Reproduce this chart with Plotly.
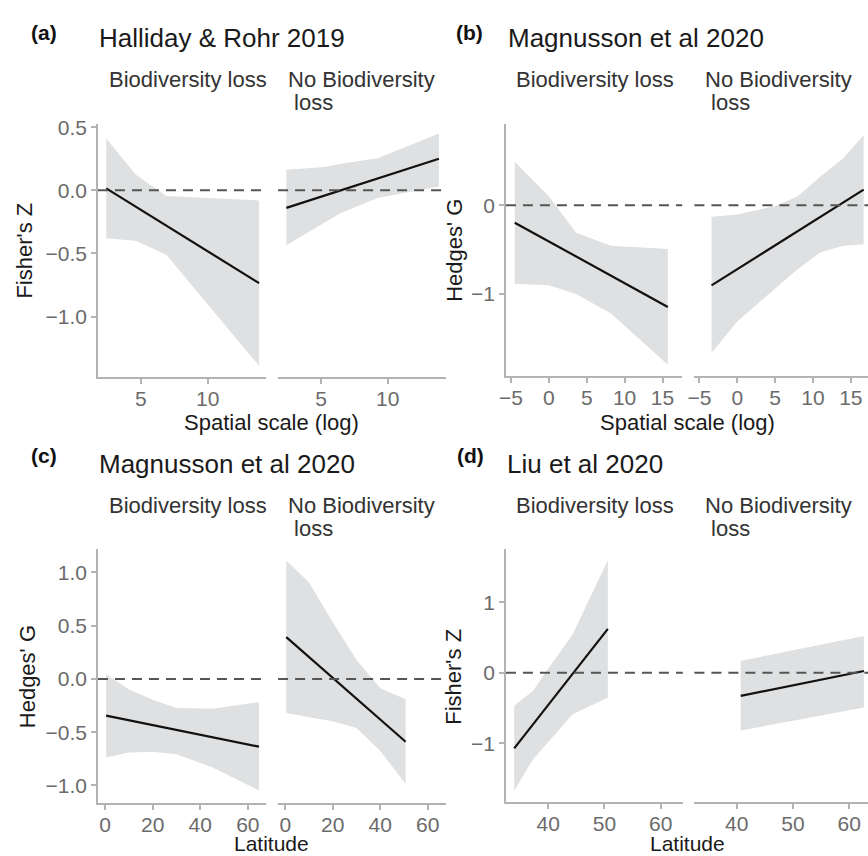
import plotly.graph_objects as go

W, H = 868, 856
FONT = "Liberation Sans, Arial, sans-serif"

# ---------------- data ----------------
# (a) Halliday & Rohr 2019 - Fisher's Z vs spatial scale (log)
a_loss_line_x = [2.4, 13.85]
a_loss_line_y = [0.015, -0.735]
a_loss_rib_x = [2.4, 4.6, 6.9, 13.85]
a_loss_rib_up = [0.41, 0.125, -0.045, -0.08]
a_loss_rib_lo = [-0.38, -0.40, -0.51, -1.39]

a_no_line_x = [2.4, 13.85]
a_no_line_y = [-0.139, 0.25]
a_no_rib_x = [2.4, 5.25, 6.5, 9.25, 13.85]
a_no_rib_up = [0.162, 0.185, 0.21, 0.254, 0.45]
a_no_rib_lo = [-0.434, -0.256, -0.18, -0.06, 0.03]

# (b) Magnusson et al 2020 - Hedges' G vs spatial scale (log)
b_loss_line_x = [-4.5, 15.7]
b_loss_line_y = [-0.197, -1.145]
b_loss_rib_x = [-4.5, 0, 3.6, 8.2, 15.7]
b_loss_rib_up = [0.49, 0.1, -0.31, -0.457, -0.494]
b_loss_rib_lo = [-0.884, -0.9, -1.0, -1.22, -1.795]

b_no_line_x = [-3.4, 16.7]
b_no_line_y = [-0.903, 0.175]
b_no_rib_x = [-3.4, 0, 5, 8, 11, 14, 16.7]
b_no_rib_up = [-0.13, -0.104, -0.01, 0.1, 0.323, 0.527, 0.788]
b_no_rib_lo = [-1.665, -1.31, -0.94, -0.717, -0.53, -0.457, -0.44]

# (c) Magnusson et al 2020 - Hedges' G vs latitude
c_loss_line_x = [0.4, 64.7]
c_loss_line_y = [-0.344, -0.636]
c_loss_rib_x = [0.4, 10, 20, 30, 45, 64.7]
c_loss_rib_up = [0.043, -0.1, -0.195, -0.273, -0.279, -0.218]
c_loss_rib_lo = [-0.738, -0.69, -0.685, -0.707, -0.83, -1.048]

c_no_line_x = [0.4, 50.7]
c_no_line_y = [0.393, -0.59]
c_no_rib_x = [0.4, 10, 20, 30, 40, 50.7]
c_no_rib_up = [1.113, 0.905, 0.533, 0.177, -0.087, -0.19]
c_no_rib_lo = [-0.32, -0.36, -0.397, -0.46, -0.676, -0.986]

# (d) Liu et al 2020 - Fisher's Z vs latitude
d_loss_line_x = [33.94, 50.6]
d_loss_line_y = [-1.072, 0.622]
d_loss_rib_x = [33.94, 37.3, 40, 44.3, 50.6]
d_loss_rib_up = [-0.468, -0.257, 0.06, 0.538, 1.597]
d_loss_rib_lo = [-1.67, -1.226, -0.98, -0.594, -0.351]

d_no_line_x = [40.7, 62.6]
d_no_line_y = [-0.328, 0.024]
d_no_rib_x = [40.7, 62.6]
d_no_rib_up = [0.169, 0.52]
d_no_rib_lo = [-0.819, -0.492]

panel_letters = ["(a)", "(b)", "(c)", "(d)"]
panel_titles = ["Halliday & Rohr 2019", "Magnusson et al 2020", "Magnusson et al 2020", "Liu et al 2020"]
facet_left = "Biodiversity loss"
facet_right_1 = "No Biodiversity"
facet_right_2 = "\u00a0loss"
y_titles = ["Fisher's Z", "Hedges' G", "Hedges' G", "Fisher's Z"]
x_titles = ["Spatial scale (log)", "Spatial scale (log)", "Latitude", "Latitude"]

# ---------------- layout helpers ----------------
def px_x(p):
    return p / W

def px_y(p):
    return 1 - p / H

RIB = "#dfe0e2"
AXC = "#b3b3b3"
TICKC = "#6b6b6b"

fig = go.Figure()

facets = [
    # panel a
    dict(x0=91.7, x1=261.0, yt=117.0, yb=372.7, xr=[1.78, 14.36], yr=[-1.48, 0.526], yshow=True,
         xt=[5, 10], yt_v=[-1.0, -0.5, 0.0, 0.5], yfmt=".1f",
         line=(a_loss_line_x, a_loss_line_y), rib=(a_loss_rib_x, a_loss_rib_up, a_loss_rib_lo)),
    dict(x0=273.3, x1=442.3, yt=117.0, yb=372.7, xr=[1.78, 14.36], yr=[-1.48, 0.526], yshow=False,
         xt=[5, 10], yt_v=[], yfmt=".1f",
         line=(a_no_line_x, a_no_line_y), rib=(a_no_rib_x, a_no_rib_up, a_no_rib_lo)),
    # panel b
    dict(x0=503.0, x1=680.7, yt=116.7, yb=371.7, xr=[-5.66, 17.6], yr=[-1.925, 0.918], yshow=True,
         xt=[-5, 0, 5, 10, 15], yt_v=[-1, 0], yfmt="d",
         line=(b_loss_line_x, b_loss_line_y), rib=(b_loss_rib_x, b_loss_rib_up, b_loss_rib_lo)),
    dict(x0=693.0, x1=868.0, yt=116.7, yb=371.7, xr=[-5.66, 17.27], yr=[-1.925, 0.918], yshow=False,
         xt=[-5, 0, 5, 10, 15], yt_v=[], yfmt="d",
         line=(b_no_line_x, b_no_line_y), rib=(b_no_rib_x, b_no_rib_up, b_no_rib_lo)),
    # panel c
    dict(x0=91.7, x1=261.0, yt=546.0, yb=802.7, xr=[-3.05, 67.6], yr=[-1.167, 1.221], yshow=True,
         xt=[0, 20, 40, 60], yt_v=[-1.0, -0.5, 0.0, 0.5, 1.0], yfmt=".1f",
         line=(c_loss_line_x, c_loss_line_y), rib=(c_loss_rib_x, c_loss_rib_up, c_loss_rib_lo)),
    dict(x0=273.3, x1=442.3, yt=546.0, yb=802.7, xr=[-3.05, 67.6], yr=[-1.167, 1.221], yshow=False,
         xt=[0, 20, 40, 60], yt_v=[], yfmt=".1f",
         line=(c_no_line_x, c_no_line_y), rib=(c_no_rib_x, c_no_rib_up, c_no_rib_lo)),
    # panel d
    dict(x0=503.0, x1=681.3, yt=546.0, yb=801.7, xr=[32.47, 63.93], yr=[-1.836, 1.756], yshow=True,
         xt=[40, 50, 60], yt_v=[-1, 0, 1], yfmt="d",
         line=(d_loss_line_x, d_loss_line_y), rib=(d_loss_rib_x, d_loss_rib_up, d_loss_rib_lo)),
    dict(x0=693.0, x1=868.0, yt=546.0, yb=801.7, xr=[32.47, 63.33], yr=[-1.836, 1.756], yshow=False,
         xt=[40, 50, 60], yt_v=[], yfmt="d",
         line=(d_no_line_x, d_no_line_y), rib=(d_no_rib_x, d_no_rib_up, d_no_rib_lo)),
]

shapes = []
layout_axes = {}
for i, f in enumerate(facets, start=1):
    xa = "x" if i == 1 else f"x{i}"
    ya = "y" if i == 1 else f"y{i}"
    xkey = "xaxis" if i == 1 else f"xaxis{i}"
    ykey = "yaxis" if i == 1 else f"yaxis{i}"
    rx, rup, rlo = f["rib"]
    fig.add_trace(go.Scatter(
        x=list(rx) + list(rx)[::-1], y=list(rup) + list(rlo)[::-1],
        fill="toself", fillcolor=RIB, line=dict(width=0), mode="lines",
        hoverinfo="skip", showlegend=False, xaxis=xa, yaxis=ya))
    lx, ly = f["line"]
    fig.add_trace(go.Scatter(
        x=lx, y=ly, mode="lines", line=dict(color="#111111", width=2.2),
        showlegend=False, xaxis=xa, yaxis=ya))
    shapes.append(dict(type="line", xref=f"{xa} domain", yref=ya, x0=0, x1=1, y0=0, y1=0,
                       line=dict(color="#555555", width=2, dash="10px,7px"), layer="above"))
    layout_axes[xkey] = dict(
        domain=[px_x(f["x0"]), px_x(f["x1"])], range=f["xr"], anchor=ya,
        showline=True, linecolor=AXC, linewidth=1.5, ticks="outside", ticklen=5,
        tickcolor=AXC, tickwidth=1.5, tickvals=f["xt"], showgrid=False, zeroline=False,
        ticklabelstandoff=-3,
        tickfont=dict(family=FONT, size=21, color=TICKC), fixedrange=True)
    layout_axes[ykey] = dict(
        domain=[px_y(f["yb"]), px_y(f["yt"])], range=f["yr"], anchor=xa,
        showline=f["yshow"], linecolor=AXC, linewidth=1.5,
        ticks="outside" if f["yshow"] else "", ticklen=5, tickcolor=AXC, tickwidth=1.5,
        tickvals=f["yt_v"], tickformat=f["yfmt"], showticklabels=f["yshow"],
        showgrid=False, zeroline=False,
        tickfont=dict(family=FONT, size=21, color=TICKC), fixedrange=True)

annotations = []

def ann(text, xp, yp, size, color, xanchor="left", yanchor="middle", bold=False, angle=0):
    if bold:
        text = f"<b>{text}</b>"
    annotations.append(dict(text=text, x=px_x(xp), y=px_y(yp), xref="paper", yref="paper",
                            xanchor=xanchor, yanchor=yanchor, showarrow=False, textangle=angle,
                            borderpad=0, font=dict(family=FONT, size=size, color=color)))

headers = [(22.7, 92.0, 25.0, 30.0), (451.3, 504.0, 25.0, 30.0),
           (22.7, 92.0, 452.0, 460.0), (452.3, 503.0, 452.0, 460.0)]
for k, (lx, tx, ly, ty) in enumerate(headers):
    ann(panel_letters[k], lx, ly, 21, "#111111", bold=True)
    ann(panel_titles[k], tx, ty, 26, "#1a1a1a")

strips = [(101.7, 282.0, 71.7), (511.7, 702.3, 71.7), (101.7, 282.0, 501.7), (511.7, 702.3, 501.7)]
for sl, sr, sy in strips:
    ann(facet_left, sl, sy, 22, "#333333")
    ann(facet_right_1, sr, sy, 22, "#333333")
    ann(facet_right_2, sr, sy + 24, 22, "#333333")

ytpos = [(18.0, 245.0), (451.7, 245.0), (20.7, 675.0), (450.7, 675.0)]
for k, (xp, yp) in enumerate(ytpos):
    ann(y_titles[k], xp, yp, 22, "#1a1a1a", xanchor="center", angle=-90)

# x-axis titles: top row centred below the ticks, bottom row sits on the page edge
ann(x_titles[0], 267.0, 418.0, 22, "#1a1a1a", xanchor="center")
ann(x_titles[1], 686.0, 418.0, 22, "#1a1a1a", xanchor="center")
ann(x_titles[2], 267.0, 856.0, 21, "#1a1a1a", xanchor="center", yanchor="bottom")
ann(x_titles[3], 686.0, 856.0, 21, "#1a1a1a", xanchor="center", yanchor="bottom")

fig.update_layout(
    width=W, height=H, margin=dict(l=0, r=0, t=0, b=0),
    paper_bgcolor="white", plot_bgcolor="rgba(0,0,0,0)",
    showlegend=False, shapes=shapes, annotations=annotations,
    font=dict(family=FONT), **layout_axes)

fig.write_html(
    "out.html",
    config={"displayModeBar": False},
    post_script="document.body.style.margin='0';document.body.style.overflow='hidden';",
)
